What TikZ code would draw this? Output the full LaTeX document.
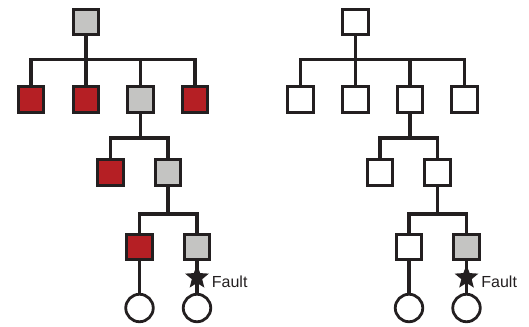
\documentclass[tikz,border=0pt]{standalone}
\usepackage{fontspec}
\setmainfont{Liberation Sans}
\usetikzlibrary{positioning, shapes.geometric}

\definecolor{ink}{HTML}{231F20}
\definecolor{faultred}{HTML}{B51F24}
\definecolor{pathgray}{HTML}{C4C4C2}

\begin{document}
\begin{tikzpicture}[x=1pt, y=-1pt, color=ink, line width=3.4pt,
  box/.style={draw=ink, line width=3pt, minimum size=25.5pt, inner sep=0pt},
  leaf/.style={circle, draw=ink, line width=2.8pt, fill=white, minimum size=27.5pt, inner sep=0pt},
  mark star/.style={star, star points=5, star point ratio=2.3, fill=ink, minimum size=25pt, inner sep=0pt}]
  \useasboundingbox (0,0) rectangle (529,326);

  \foreach \t/\dx/\cr/\cg in {l/0/faultred/pathgray, r/269.5/white/white} {
    % nodes, level by level
    \node[box, fill=\cg] (\t root) at (\dx+86,22) {};
    \node[box, fill=\cr] (\t a1) at (\dx+31,99.5) {};
    \node[box, fill=\cr] (\t a2) at (\dx+86,99.5) {};
    \node[box, fill=\cg] (\t a3) at (\dx+140.5,99.5) {};
    \node[box, fill=\cr] (\t a4) at (\dx+195,99.5) {};
    \node[box, fill=\cr] (\t b1) at (\dx+110.5,172.5) {};
    \node[box, fill=\cg] (\t b2) at (\dx+168,172.5) {};
    \node[box, fill=\cr] (\t c1) at (\dx+139.5,247) {};
    \node[box, fill=pathgray] (\t c2) at (\dx+197,247) {};
    \node[leaf] (\t d1) at (\dx+139.5,308) {};
    \node[leaf] (\t d2) at (\dx+197,308) {};

    % buses
    \coordinate (\t s0) at (\dx+86,59.5);
    \coordinate (\t s1) at (\dx+140.5,138);
    \coordinate (\t s2) at (\dx+168,214);
    \draw (\t root) -- (\t s0);
    \foreach \i in {1,...,4}
      \draw (\t s0) -| (\t a\i);
    \draw (\t a3) -- (\t s1);
    \draw (\t s1) -| (\t b1);
    \draw (\t s1) -| (\t b2);
    \draw (\t b2) -- (\t s2);
    \draw (\t s2) -| (\t c1);
    \draw (\t s2) -| (\t c2);
    \draw (\t c1) -- (\t d1);
    \draw (\t c2) -- (\t d2);

    % the fault
    \node[mark star] (\t star) at (\dx+197,277.5) {};
    \node[right=0pt of \t star, yshift=-4pt, font=\fontsize{16}{19}\selectfont] (\t fault) {Fault};
  }
\end{tikzpicture}
\end{document}
